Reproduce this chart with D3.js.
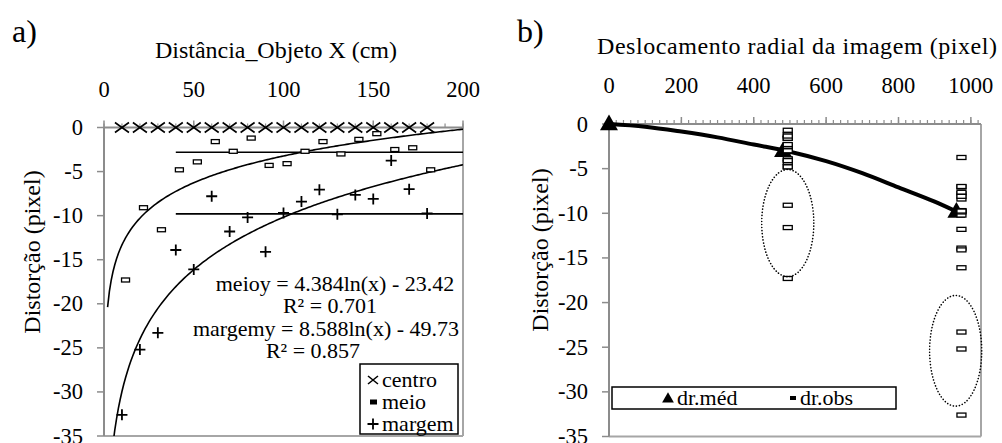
<!DOCTYPE html>
<html><head><meta charset="utf-8">
<script src="https://cdn.jsdelivr.net/npm/d3@7"></script>
<style>
body{margin:0;background:#fff;font-family:"Liberation Serif",serif;}
text{font-family:"Liberation Serif",serif !important;}
</style></head>
<body><svg id="c" width="1002" height="443" style="font-family:'Liberation Serif',serif"></svg>
<script>
// ---------- Panel a data ----------
const centroX = [10,20,30,40,50,60,70,80,90,100,110,120,130,140,150,160,170,180];
const centroY = [0,0,0,0,0,0,0,0,0,0,0,0,0,0,0,0,0,0];
const meioX = [12,22,32,42,52,62,72,82,92,102,112,122,132,142,152,162,172,182];
const meioY = [-17.3,-9.1,-11.6,-4.8,-3.9,-1.6,-2.7,-1.2,-4.3,-4.1,-2.7,-1.6,-3.0,-1.35,-0.7,-2.5,-2.3,-4.8];
const margemX = [10,20,30,40,50,60,70,80,90,100,110,120,130,140,150,160,170,180];
const margemY = [-32.6,-25.2,-23.3,-13.9,-16.1,-7.8,-11.8,-10.2,-14.1,-9.7,-8.4,-7.05,-9.85,-7.65,-8.1,-3.75,-7.0,-9.75];
const meioTrend = [4.384, -23.42];     // y = a ln(x) + b
const margemTrend = [8.588, -49.73];
const medianLineX = [40, 200];
const medianLineY = [-2.8, -9.8];      // meio, margem
const aXTicks = [0,50,100,150,200];
const yTicks = [0,-5,-10,-15,-20,-25,-30,-35];
const eqLabels = ["meioy = 4.384ln(x) - 23.42","R² = 0.701","margemy = 8.588ln(x) - 49.73","R² = 0.857"];
const legendA = ["centro","meio","margem"];

// ---------- Panel b data ----------
const medX = [0, 481, 960];
const medY = [0, -3.0, -9.8];
const curveX = [0,100,200,300,400,500,600,700,800,900,960];
const curveY = [0,-0.3,-0.85,-1.5,-2.3,-3.1,-4.15,-5.5,-7.1,-8.7,-9.8];
const obsColX = [494, 974];
const bXTicks = [0,200,400,600,800,1000];
const ellipseCX = [494, 958];
const ellipseCY = [-11.1, -25.4];
const ellipseRX = [72, 72];
const ellipseRY = [6.0, 6.2];
const legendB = ["dr.méd","dr.obs"];

const svg = d3.select("#c");
const FF = "Liberation Serif";
const FS = 22.5, FT = 24, FE = 22;
const axisGray = "#8c8c8c", borderGray = "#a6a6a6";

function txt(g){ return g.append("text").attr("font-family", FF).style("font-family", FF).attr("fill","#000"); }

function drawFrame(g, x, y, xTicks, minorStep, xTitle, yTitle, titleX, titleLen, yTitleX, yTitleY, panelLabel, plX) {
  const [x0,x1] = x.range(), [y0,y1] = y.range();
  g.append("line").attr("x1",x1).attr("x2",x1).attr("y1",y0).attr("y2",y1).attr("stroke",borderGray).attr("stroke-width",2);
  g.append("line").attr("x1",x0).attr("x2",x1).attr("y1",y1).attr("y2",y1).attr("stroke",borderGray).attr("stroke-width",2);
  const dmax = x.domain()[1];
  d3.range(0, dmax+0.001, minorStep).forEach(v=>{
    g.append("line").attr("x1",x(v)).attr("x2",x(v)).attr("y1",y0).attr("y2",y0-4).attr("stroke",axisGray).attr("stroke-width",1.2);
  });
  xTicks.forEach(v=>{
    g.append("line").attr("x1",x(v)).attr("x2",x(v)).attr("y1",y0+1).attr("y2",y0-7).attr("stroke",axisGray).attr("stroke-width",1.5);
    txt(g).attr("x",x(v)).attr("y",y0-31).attr("text-anchor","middle").attr("font-size",FS).text(v);
  });
  yTicks.forEach(v=>{
    g.append("line").attr("x1",x0-7).attr("x2",x0).attr("y1",y(v)).attr("y2",y(v)).attr("stroke",axisGray).attr("stroke-width",1.5);
    txt(g).attr("x",x0-21).attr("y",y(v)+7.5).attr("text-anchor","end").attr("font-size",FS).text(v);
  });
  g.append("line").attr("x1",x0).attr("x2",x1).attr("y1",y0).attr("y2",y0).attr("stroke",axisGray).attr("stroke-width",2);
  g.append("line").attr("x1",x0).attr("x2",x0).attr("y1",y0).attr("y2",y1).attr("stroke",axisGray).attr("stroke-width",2);
  txt(g).attr("x",titleX).attr("y",y0-70).attr("text-anchor","middle").attr("font-size",FT)
    .attr("textLength",titleLen).attr("lengthAdjust","spacing").text(xTitle);
  txt(g).attr("transform",`translate(${yTitleX},${yTitleY}) rotate(-90)`).attr("text-anchor","middle").attr("font-size",FT).text(yTitle);
  txt(g).attr("x",plX).attr("y",42).attr("font-size",32).text(panelLabel);
}

// ===== Panel a =====
const ga = svg.append("g");
const xa = d3.scaleLinear().domain([0,200]).range([104,463]);
const ya = d3.scaleLinear().domain([0,-35]).range([127.5,436]);
drawFrame(ga, xa, ya, aXTicks, 10, "Distância_Objeto X (cm)", "Distorção (pixel)", 276, 242, 40, 252, "a)", 12);

ga.append("clipPath").attr("id","clipA").append("rect").attr("x",104).attr("y",127.5).attr("width",359).attr("height",308.5);
const trendXs = d3.range(2, 200.01, 1);
[meioTrend, margemTrend].forEach(c=>{
  ga.append("path").attr("clip-path","url(#clipA)")
    .attr("d", d3.line().x(d=>xa(d)).y(d=>ya(c[0]*Math.log(d)+c[1]))(trendXs))
    .attr("fill","none").attr("stroke","#000").attr("stroke-width",1.6);
});
medianLineY.forEach(v=>{
  ga.append("line").attr("x1",xa(medianLineX[0])).attr("x2",xa(medianLineX[1])).attr("y1",ya(v)).attr("y2",ya(v)).attr("stroke","#000").attr("stroke-width",1.6);
});
function cross(g,cx,cy,w,h){
  g.append("path").attr("d",`M${cx-w/2},${cy-h/2}L${cx+w/2},${cy+h/2}M${cx-w/2},${cy+h/2}L${cx+w/2},${cy-h/2}`).attr("stroke","#000").attr("stroke-width",1.6).attr("fill","none");
}
function plus(g,cx,cy,s){
  g.append("path").attr("d",`M${cx-s/2},${cy}L${cx+s/2},${cy}M${cx},${cy-s/2}L${cx},${cy+s/2}`).attr("stroke","#000").attr("stroke-width",1.8).attr("fill","none");
}
function dash(g,cx,cy,w,h){
  g.append("rect").attr("x",cx-w/2).attr("y",cy-h/2).attr("width",w).attr("height",h).attr("fill","#fff").attr("stroke","#000").attr("stroke-width",1.3);
}
centroX.forEach((v,i)=>cross(ga, xa(v), ya(centroY[i]), 14, 10));
meioX.forEach((v,i)=>dash(ga, xa(v), ya(meioY[i]), 8, 4));
margemX.forEach((v,i)=>plus(ga, xa(v), ya(margemY[i]), 11));

const eqPos = [[335,291],[330,313],[326,336],[313,358]];
eqLabels.forEach((t,i)=>{
  txt(ga).attr("x",eqPos[i][0]).attr("y",eqPos[i][1]).attr("text-anchor","middle").attr("font-size",FE).text(t);
});
ga.append("rect").attr("x",360).attr("y",364).attr("width",98).attr("height",70).attr("fill","#fff").attr("stroke","#000").attr("stroke-width",1.5);
const legY = [380, 402, 424];
cross(ga, 373, legY[0], 10, 8);
ga.append("rect").attr("x",370).attr("y",legY[1]-2.5).attr("width",7).attr("height",5).attr("fill","#000");
plus(ga, 373, legY[2], 11);
legendA.forEach((t,i)=>txt(ga).attr("x",382).attr("y",legY[i]+7).attr("font-size",FE).text(t));

// ===== Panel b =====
const gb = svg.append("g");
const xb = d3.scaleLinear().domain([0,1028]).range([609,981]);
const yb = d3.scaleLinear().domain([0,-35]).range([124,436.5]);
drawFrame(gb, xb, yb, bXTicks, 20, "Deslocamento radial da imagem (pixel)", "Distorção (pixel)", 797, 400, 548, 250, "b)", 517);

const tri = d3.symbol().type(d3.symbolTriangle).size(140);
medX.forEach((v,i)=>{
  gb.append("path").attr("d",tri()).attr("transform",`translate(${xb(v)},${yb(medY[i])+1})`).attr("fill","#000");
});
gb.append("path").attr("d", d3.line().x(d=>xb(d)).y((d,i)=>yb(curveY[i])).curve(d3.curveMonotoneX)(curveX))
  .attr("fill","none").attr("stroke","#000").attr("stroke-width",4);
[meioY, margemY].forEach((arr,k)=>{
  arr.forEach(v=>dash(gb, xb(obsColX[k]), yb(v), 9, 4));
});
ellipseCX.forEach((v,i)=>{
  gb.append("ellipse").attr("cx",xb(v)).attr("cy",yb(ellipseCY[i]))
    .attr("rx",xb(ellipseRX[i])-xb(0)).attr("ry",yb(-ellipseRY[i])-yb(0))
    .attr("fill","none").attr("stroke","#000").attr("stroke-width",1.6).attr("stroke-dasharray","0.1 3").attr("stroke-linecap","round");
});
gb.append("rect").attr("x",612).attr("y",387).attr("width",284).attr("height",22).attr("fill","#fff").attr("stroke","#000").attr("stroke-width",1.5);
gb.append("path").attr("d",d3.symbol().type(d3.symbolTriangle).size(60)()).attr("transform","translate(668,399)").attr("fill","#000");
gb.append("rect").attr("x",790).attr("y",396).attr("width",6).attr("height",4).attr("fill","#000");
txt(gb).attr("x",677).attr("y",405).attr("font-size",FE).text(legendB[0]);
txt(gb).attr("x",800).attr("y",405).attr("font-size",FE).text(legendB[1]);
</script></body></html>
